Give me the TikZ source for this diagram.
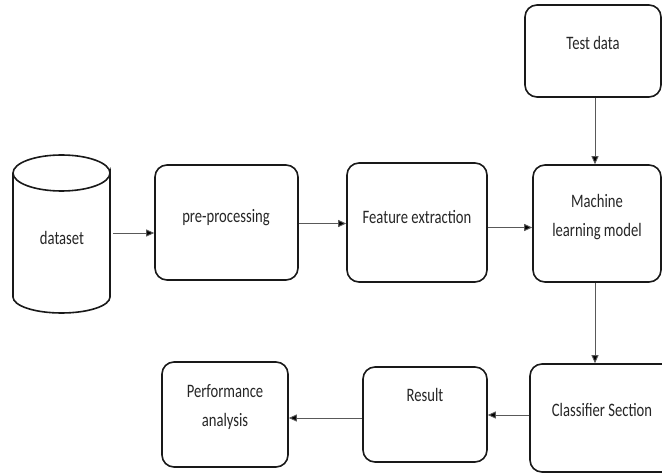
\documentclass[tikz,border=0pt]{standalone}
\usepackage{fontspec}
\setmainfont{Carlito}[FakeStretch=0.77]
\usetikzlibrary{arrows.meta}
\tikzset{
  box/.style={draw=black!90, line width=1.6pt, rounded corners=12pt, inner sep=0pt},
  txt/.style={font=\fontsize{19}{29}\selectfont, text=black!85, align=center, inner sep=0pt},
  arr/.style={draw=black!65, line width=0.9pt, -{Triangle[length=8pt,width=7pt,fill=black]}},
}
\newcommand{\boxat}[5]{\node[box, minimum width={#4-#2}, minimum height={#5-#3}] (#1) at ({(#2+#4)/2},{(#3+#5)/2}) {};}
\begin{document}
\begin{tikzpicture}[x=1pt,y=-1pt]
\useasboundingbox (0,0) rectangle (662,473);
\clip (0,0) rectangle (662,473);
\fill[white] (0,0) rectangle (662,473);
% cylinder
\draw[line width=1.6pt, draw=black!90] (13,173) -- (13,297) arc[start angle=180,end angle=0,x radius=48.5,y radius=16] -- (110,173)
  arc[start angle=0,end angle=360,x radius=48.5,y radius=18];
\node[inner sep=0pt, minimum width=97pt, minimum height=140pt] (ds) at (61.5,235) {};
\node[txt] (dsT) at (62,238) {dataset};
% boxes
\boxat{pre}{155}{165}{298}{280}
\boxat{fe}{347}{163}{487}{282}
\boxat{ml}{533}{165}{661}{282}
\boxat{test}{525}{5}{661}{97}
\boxat{cls}{530}{364}{680}{472}
\boxat{res}{363}{367}{487}{462}
\boxat{perf}{162}{362}{288}{467}
% texts
\node[txt] (preT) at (226,218) {pre-processing};
\node[txt] (feT) at (417,217) {Feature extraction};
\node[txt] (mlT) at (597,217) {Machine\\learning model};
\node[txt] (testT) at (593,43) {Test data};
\node[txt] (clsT) at (602,410) {Classifier Section};
\node[txt] (resT) at (425,395) {Result};
\node[txt] (perfT) at (225,407.5) {Performance\\analysis};
% arrows
\coordinate (a1) at (113,233);
\coordinate (a3) at ([yshift=-5pt]fe.east);
\draw[arr] (a1) -- (pre.west |- a1);
\draw[arr] ([yshift=-1pt]pre.east) -- ([yshift=-1pt]fe.west);
\draw[arr] (a3) -- (ml.west |- a3);
\draw[arr] (test.south -| 595,0) -- (ml.north -| 595,0);
\draw[arr] (ml.south -| 595,0) -- (cls.north -| 595,0);
\draw[arr] (cls.west |- 0,415) -- (res.east |- 0,415);
\draw[arr] (res.west |- 0,418) -- (perf.east |- 0,418);
\end{tikzpicture}
\end{document}
